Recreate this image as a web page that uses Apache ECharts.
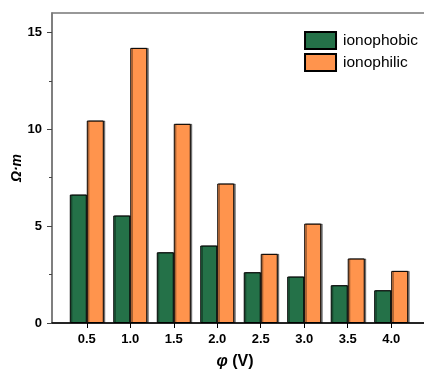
<!DOCTYPE html>
<html>
<head>
<meta charset="utf-8">
<script src="https://cdn.jsdelivr.net/npm/echarts@6/dist/echarts.min.js"></script>
<style>
  html, body { margin: 0; padding: 0; background: #fff; }
  #chart { width: 424px; height: 374px; }
</style>
</head>
<body>
<div id="chart"></div>
<script>
// values
const potentials = [0.5, 1.0, 1.5, 2.0, 2.5, 3.0, 3.5, 4.0];
const ionophobic = [6.63, 5.55, 3.65, 4.0, 2.62, 2.40, 1.95, 1.69];
const ionophilic = [10.45, 14.2, 10.28, 7.2, 3.57, 5.13, 3.33, 2.69];
const yMajor = [0, 5, 10, 15];
const yMinor = [2.5, 7.5, 12.5];

const font = 'Arial, "Liberation Sans", sans-serif';
const chart = echarts.init(document.getElementById('chart'));

const pairs = arr => potentials.map((p, i) => [p, arr[i]]);

const barStyle = color => ({
  color: color,
  borderColor: '#000',
  borderWidth: 1,
  shadowColor: 'rgba(0,0,0,0.45)',
  shadowOffsetX: 1.5,
  shadowOffsetY: 0,
  shadowBlur: 0
});

chart.setOption({
  animation: false,
  grid: {
    left: 52, right: -2, top: 13, bottom: 51,
    outerBoundsMode: 'none',
    containLabel: false,
    show: true, borderColor: '#777', borderWidth: 1.5
  },
  legend: {
    right: 1, top: 26,
    orient: 'vertical',
    icon: 'rect',
    itemWidth: 31, itemHeight: 17, itemGap: 3,
    textStyle: { fontFamily: font, fontSize: 15.5, color: '#000', padding: [0, 0, 0, 2] },
    data: ['ionophobic', 'ionophilic']
  },
  xAxis: {
    type: 'value',
    min: 0.1, max: 4.4,
    name: '{i|φ} (V)',
    nameLocation: 'middle',
    nameGap: 31,
    nameMoveOverlap: false,
    nameTextStyle: {
      fontFamily: font, fontSize: 16, fontWeight: 'bold', color: '#000',
      padding: [0, 8, 0, 0],
      rich: { i: { fontFamily: font, fontSize: 16, fontWeight: 'bold', fontStyle: 'italic', color: '#000' } }
    },
    axisLine: { lineStyle: { color: '#000', width: 1.5 } },
    axisTick: { customValues: potentials, length: 5, lineStyle: { color: '#000', width: 1 } },
    axisLabel: {
      customValues: potentials,
      formatter: v => v.toFixed(1),
      fontFamily: font, fontSize: 13, fontWeight: 'bold', color: '#000', margin: 10
    },
    splitLine: { show: false }
  },
  yAxis: [{
    type: 'value',
    min: 0, max: 16,
    name: 'Ω·m',
    nameLocation: 'middle',
    nameGap: 28,
    nameRotate: 90,
    nameMoveOverlap: false,
    nameTextStyle: { fontFamily: font, fontSize: 14, fontWeight: 'bold', fontStyle: 'italic', color: '#000' },
    axisLine: { show: true, lineStyle: { color: '#777', width: 1.5 } },
    axisTick: { customValues: yMajor, length: 5, lineStyle: { color: '#444', width: 1 } },
    axisLabel: {
      customValues: yMajor,
      fontFamily: font, fontSize: 13, fontWeight: 'bold', color: '#000', margin: 10
    },
    splitLine: { show: false }
  }, {
    type: 'value',
    min: 0, max: 16,
    position: 'left',
    axisLine: { show: false },
    axisTick: { customValues: yMinor, length: 3, lineStyle: { color: '#444', width: 1 } },
    axisLabel: { show: false },
    splitLine: { show: false }
  }],
  series: [{
    name: 'ionophobic',
    type: 'bar',
    barWidth: 17,
    barGap: '0%',
    itemStyle: barStyle('#247148'),
    data: pairs(ionophobic)
  }, {
    name: 'ionophilic',
    type: 'bar',
    barWidth: 17,
    barGap: '0%',
    itemStyle: barStyle('#ff944d'),
    data: pairs(ionophilic)
  }]
});
</script>
</body>
</html>
